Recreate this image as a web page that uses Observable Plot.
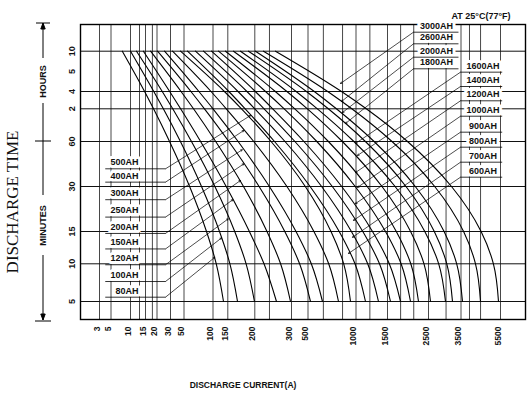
<!DOCTYPE html>
<html><head><meta charset="utf-8">
<script src="https://cdn.jsdelivr.net/npm/d3@7"></script>
<script src="https://cdn.jsdelivr.net/npm/@observablehq/plot@0.6"></script>
<style>body{margin:0;background:#fff} svg{display:block}</style>
</head><body><div id="chart"></div>
<script>
// ---- axis definitions (irregular printed scale) ----
const xTickValues = [3,5,10,15,20,30,50,100,150,200,300,500,1000,1500,2500,3500,5500];
const xExtraGrid = [13,18,240,660,860,1220,1820,2140,3040,3930,4490];
const yTickValues = [600,300,240,120,60,30,15,10,5];          // minutes
const yTickLabels = ["10","5","4","2","60","30","15","10","5"];
const yGrid = [600,240,120,60,30,15,10,5];

// ---- discharge curves: current (A) at each discharge time (min) ----
const times = [600,240,120,60,30,15,10,5];
const capacities = ["80AH","100AH","120AH","150AH","200AH","250AH","300AH","400AH","500AH","600AH","700AH","800AH","900AH","1000AH","1200AH","1400AH","1600AH","1800AH","2000AH","2600AH","3000AH"];
const c80   = [7.9, 14.7, 18.5, 29.3, 59.7, 88.8, 111, 135.5];
const c100  = [10, 18.6, 24.7, 44.7, 80.2, 122, 153.9, 168];
const c120  = [12, 23.9, 33.3, 62.9, 106.4, 162.8, 183.9, 199.4];
const c150  = [14.3, 29.4, 45, 78.6, 144.6, 190, 225.1, 259.1];
const c200  = [17.2, 45.6, 66.4, 109.1, 179.1, 233.2, 270.3, 297.3];
const c250  = [20.4, 61.9, 85.3, 151.9, 211.7, 281.7, 398.2, 526];
const c300  = [25.6, 75.7, 100, 169.1, 239.8, 354.5, 534.4, 651];
const c400  = [33, 96.6, 144.9, 198, 287.5, 561.5, 715.6, 817.7];
const c500  = [44.8, 138.5, 175.4, 244.4, 467.3, 739.6, 871.9, 942.7];
const c600  = [56, 151.9, 182.2, 253.7, 521.9, 825, 989.6, 1150.8];
const c700  = [69.8, 168.9, 200, 282.3, 641.7, 952.1, 1185.7, 1357.1];
const c800  = [83.6, 185.4, 225.3, 341.2, 753.1, 1107.9, 1373, 1573.2];
const c900  = [97.4, 201.4, 248.8, 450.3, 851, 1261.9, 1543.9, 1817.1];
const c1000 = [118.6, 229.2, 280.1, 591.7, 991.7, 1468.3, 1831.7, 2061];
const c1200 = [142.2, 255.9, 340, 712.5, 1177.8, 1714.6, 2068.3, 2256.1];
const c1400 = [160.6, 287.5, 492.7, 858.3, 1412.7, 2063.4, 2390.2, 2561.5];
const c1600 = [173.5, 355.8, 597.9, 978.1, 1685.4, 2409.7, 2813.8, 3023.1];
const c1800 = [188.3, 480.6, 711.5, 1149.2, 1951.2, 2678.5, 3063.1, 3238.5];
const c2000 = [201.9, 565.6, 795.8, 1287.3, 2178, 2980, 3367.7, 3575.9];
const c2600 = [223.7, 705.2, 956.3, 1609.8, 2690.8, 3631.6, 4234.2, 4487.3];
const c3000 = [256.4, 849, 1163.5, 1987.8, 3207.7, 4517.7, 5140.5, 5398.7];
const curveCurrents = [c80,c100,c120,c150,c200,c250,c300,c400,c500,c600,c700,c800,c900,c1000,c1200,c1400,c1600,c1800,c2000,c2600,c3000];

// ---- capacity labels and the curve points their leaders point to ----
const leftNames = ["500AH","400AH","300AH","250AH","200AH","150AH","120AH","100AH","80AH"];
const leftLabelTime = [41.8, 32.9, 25.6, 19.8, 14.7, 12.3, 9.87, 7.65, 5.57];
const leftTargetCurrent = [192, 179.6, 176.7, 179.6, 173.5, 159.3, 150.7, 128.7, 106.1];
const leftTargetTime = [107.7, 80.2, 54.5, 45.1, 34, 25.6, 19.2, 14.0, 11.0];

const topNames = ["3000AH","2600AH","2000AH","1800AH"];
const topLabelTime = [884.6, 710.9, 511.3, 339.9];
const topTargetCurrent = [838.5, 849, 859.4, 890.6];
const topTargetTime = [264, 170.6, 113.2, 93];

const rightNames = ["1600AH","1400AH","1200AH","1000AH","900AH","800AH","700AH","600AH"];
const rightLabelTime = [298, 255, 175.5, 106.4, 77.1, 56.2, 46.2, 36.2];
const rightTargetCurrent = [994.8, 1023.8, 994.8, 1023.8, 994.8, 974, 963.5, 921.9];
const rightTargetTime = [58.7, 50.7, 39.3, 29.7, 24.3, 18.7, 14.1, 11.6];

// label column anchors on the current axis
const leftColumn  = {from: 4,    to: 26.3, text: 12.7, lead: 26.3, anchor: "end"};
const topColumn   = {from: 2134, to: 3423, text: 2746, lead: 2134, anchor: "middle"};
const rightColumn = {from: 3485, to: 5670, text: 4614, lead: 3485, anchor: "middle"};

// ---- build tables ----
const rows = [];
capacities.forEach((cap, i) => times.forEach((t, j) => rows.push({cap, time: t, current: curveCurrents[i][j]})));

const annot = [];
function addGroup(names, lt, tc, tt, col) {
  names.forEach((n, i) => annot.push({name: n, ul: lt[i], tc: tc[i], tt: tt[i],
    from: col.from, to: col.to, tx: col.text, lead: col.lead, anchor: col.anchor}));
}
addGroup(leftNames, leftLabelTime, leftTargetCurrent, leftTargetTime, leftColumn);
addGroup(topNames, topLabelTime, topTargetCurrent, topTargetTime, topColumn);
addGroup(rightNames, rightLabelTime, rightTargetCurrent, rightTargetTime, rightColumn);
const annotEnd = annot.filter(d => d.anchor === "end");
const annotMid = annot.filter(d => d.anchor === "middle");

// decoration: HOURS / MINUTES brackets
function brackets(index, scales, values, dimensions) {
  const {height, marginTop, marginBottom} = dimensions;
  const top = marginTop - 1, bottom = height - marginBottom + 1, mid = scales.y(60);
  const x = 43;
  const g = d3.create("svg:g").attr("stroke", "#000").attr("stroke-width", 1).attr("fill", "none");
  const segs = [[x, top, x, top + 35], [x - 7, top, x + 7, top], [x, top + 80, x, mid],
    [x - 8, mid, x + 8, mid], [x, mid, x, mid + 54], [x, mid + 114, x, bottom], [x - 8, bottom + 1, x + 8, bottom + 1]];
  for (const [a, b, c, d] of segs) g.append("line").attr("x1", a).attr("y1", b).attr("x2", c).attr("y2", d);
  g.append("path").attr("d", `M${x-2.2},${top+6}L${x},${top}L${x+2.2},${top+6}Z`).attr("fill", "#000");
  g.append("path").attr("d", `M${x-2.2},${bottom-6}L${x},${bottom}L${x+2.2},${bottom-6}Z`).attr("fill", "#000");
  return g.node();
}

const bold = {fontWeight: "bold", fill: "#111"};

const chart = Plot.plot({
  width: 530, height: 400,
  marginLeft: 80, marginRight: 5, marginTop: 24, marginBottom: 81,
  style: {fontFamily: "Liberation Sans, Arial, sans-serif", background: "#fff"},
  x: {type: "linear", axis: null,
      domain: [1,3,5,10,15,20,30,50,100,150,200,300,500,1000,1500,2500,3500,5500,8000],
      range:  [80,99,110.5,130,145,156.5,170,183.5,212.5,227.3,254.3,291,307.5,355.5,387,428,460.5,500,525]},
  y: {type: "linear", axis: null,
      domain: [3,5,10,15,30,60,120,240,300,600,1000],
      range:  [319,301,263.3,231,186,141,108.3,91,71,50.7,24]},
  marks: [
    Plot.ruleX(xTickValues.concat(xExtraGrid), {stroke: "#333", strokeWidth: 0.9}),
    Plot.ruleY(yGrid, {stroke: "#111", strokeWidth: 1}),
    Plot.frame({stroke: "#000", strokeWidth: 1.4}),
    // label halos hide the grid behind the labels
    Plot.text(annotEnd, {x: "tx", y: "ul", dy: -6.5, text: "name", textAnchor: "end", fontSize: 9, fontWeight: "bold", fill: "#fff", stroke: "#fff", strokeWidth: 6}),
    Plot.text(annotMid, {x: "tx", y: "ul", dy: -6.5, text: "name", textAnchor: "middle", fontSize: 9, fontWeight: "bold", fill: "#fff", stroke: "#fff", strokeWidth: 6}),
    Plot.line(rows, {x: "current", y: "time", z: "cap", curve: "monotone-y", stroke: "#000", strokeWidth: 1.1}),
    Plot.link(annot, {x1: "from", x2: "to", y1: "ul", y2: "ul", stroke: "#000", strokeWidth: 0.8}),
    Plot.arrow(annot, {x1: "lead", y1: "ul", x2: "tc", y2: "tt", stroke: "#000", strokeWidth: 0.7, headLength: 3.5}),
    Plot.text(annotEnd, {x: "tx", y: "ul", dy: -6.5, text: "name", textAnchor: "end", fontSize: 9, ...bold}),
    Plot.text(annotMid, {x: "tx", y: "ul", dy: -6.5, text: "name", textAnchor: "middle", fontSize: 9, ...bold}),
    // tick labels
    Plot.text(xTickValues, {x: d => d, text: d => String(d), frameAnchor: "bottom", dy: 7, rotate: -90, textAnchor: "end", fontSize: 8.5, ...bold}),
    Plot.text(yTickValues, {y: d => d, text: (d, i) => yTickLabels[i], frameAnchor: "left", dx: -8, rotate: -90, textAnchor: "middle", fontSize: 9, ...bold}),
    // titles
    Plot.text(["DISCHARGE TIME"], {text: d => d, frameAnchor: "left", dx: -68, dy: 30, rotate: -90, textAnchor: "middle", fontFamily: "Liberation Serif, Times New Roman, serif", fontSize: 17, fill: "#111"}),
    Plot.text(["HOURS"], {text: d => d, frameAnchor: "left", dx: -37, dy: -90.5, rotate: -90, textAnchor: "middle", fontSize: 9, ...bold}),
    Plot.text(["MINUTES"], {text: d => d, frameAnchor: "left", dx: -37, dy: 53.5, rotate: -90, textAnchor: "middle", fontSize: 9, ...bold}),
    Plot.text(["DISCHARGE CURRENT(A)"], {text: d => d, frameAnchor: "bottom", dx: -60, dy: 68, fontSize: 8.5, ...bold}),
    Plot.text(["AT 25°C(77°F)"], {text: d => d, frameAnchor: "top-right", dx: -15, dy: -11.7, textAnchor: "end", fontSize: 9, ...bold}),
    brackets
  ]
});
document.getElementById("chart").append(chart);
</script></body></html>
